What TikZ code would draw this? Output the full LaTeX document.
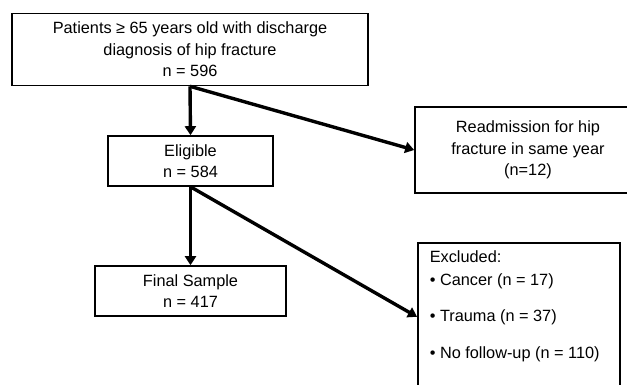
\documentclass[tikz,border=0pt]{standalone}
\usepackage{fontspec}
\setmainfont{Liberation Sans}
\usetikzlibrary{arrows.meta}
\begin{document}
\begin{tikzpicture}[x=1pt,y=-1pt,
    box/.style={draw,line width=1.6pt,align=center,inner sep=0pt,
      font=\fontsize{16.3}{21.5}\selectfont},
    arr/.style={line width=3.4pt,-{Triangle[length=9pt,width=11pt]}}]
            \useasboundingbox (0,0) rectangle (627,385);
            \clip (0,0) rectangle (627,385);
            \node[box,minimum width=356pt,minimum height=72pt] (patients) at (190,49.5)
                {Patients ≥ 65 years old with discharge\\diagnosis of hip fracture\\n = 596};
            \node[box,minimum width=165pt,minimum height=50pt] (eligible) at (190.5,161)
                {Eligible\\n = 584};
            \node[box,minimum width=191pt,minimum height=50pt] (final) at (190.5,291)
                {Final Sample\\n = 417};
            \node[box,minimum width=226pt,minimum height=86pt] (readmit) at (528,150)
                {Readmission for hip\\fracture in same year\\(n=12)};
            \node[box,anchor=north west,inner xsep=12pt,inner ysep=8pt] (excluded) at (417,242)
                {\parbox[c][132pt][t]{178pt}{\raggedright Excluded:\\[1.5pt]
                 • Cancer (n = 17)\\[14.5pt]
                 • Trauma (n = 37)\\[15.5pt]
                 • No follow-up (n = 110)}};
            \draw[arr] (patients.south) -- (eligible.north);
            \draw[arr] (patients.south) -- (readmit.west);
            \draw[arr] (eligible.south) -- (final.north);
            \draw[arr] (eligible.south) -- (excluded.west);
        \end{tikzpicture}
\end{document}
